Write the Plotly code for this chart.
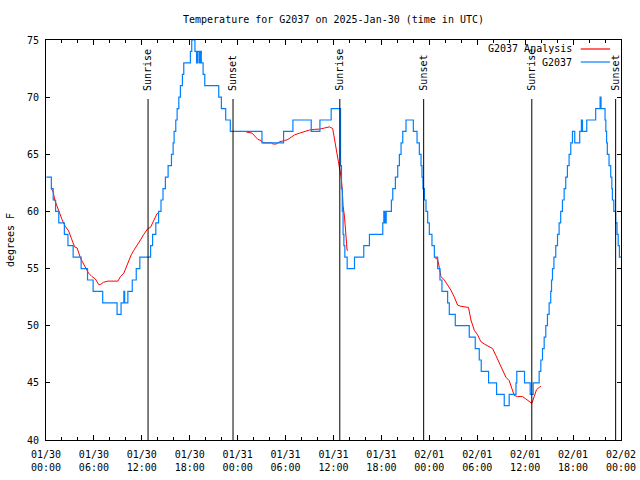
import pandas as pd
import plotly.graph_objects as go

BASE = pd.Timestamp("2025-01-30 00:00")

# Observed G2037 temperature (hours since 2025-01-30 00:00 UTC, degrees F) - step changes
obs_hours = [0.05, 0.67, 0.9, 1.2, 1.6, 2.3, 2.75, 3.4, 4.4, 5.2, 5.9, 7.1, 8.9, 9.4, 9.75, 9.85,
             10.25, 10.8, 11.3, 11.75, 13.1, 13.35, 13.75, 14.1, 14.4, 14.65, 14.95, 15.29, 15.71,
             15.92, 16.04, 16.25, 16.42, 16.63, 16.83, 17.08, 17.25, 18.08, 18.25, 18.65, 18.85,
             19.0, 19.2, 19.35, 19.45, 19.67, 19.88, 21.63, 21.96, 22.5, 23.08, 27.04, 29.75,
             30.92, 33.21, 34.3, 35.71, 36.88, 37.0, 37.1, 37.2, 37.3, 37.42, 37.71, 38.63,
             39.79, 40.5, 42.17, 42.3, 42.45, 42.6, 43.25, 43.42, 43.75, 44.04, 44.25, 44.46,
             44.67, 45.08, 46.0, 46.46, 46.75, 46.96, 47.08, 47.2, 47.38, 47.58, 47.79, 48.0,
             48.33, 48.63, 49.04, 49.33, 49.58, 50.29, 50.5, 51.25, 53.0, 53.75, 54.25, 54.5,
             55.42, 56.42, 57.38, 58.0, 58.85, 58.95, 59.92, 60.63, 61.0, 61.75, 61.96, 62.17,
             62.38, 62.58, 62.79, 63.0, 63.2, 63.3, 63.42, 63.6, 63.83, 64.05, 64.25, 64.45,
             64.67, 64.88, 65.08, 65.29, 65.5, 65.71, 65.92, 66.21, 66.83, 67.04, 67.17, 67.71,
             68.83, 69.38, 69.5, 70.0, 70.1, 70.2, 70.29, 70.5, 70.71, 70.85, 70.92, 71.1,
             71.33, 71.5, 71.65, 71.8, 72.0]
obs_temp = [63, 62, 61, 60, 59, 58, 57, 56, 55, 54, 53, 52, 51, 52, 53, 52,
            53, 54, 55, 56, 57, 58, 59, 60, 61, 62, 63, 64, 65,
            66, 67, 68, 69, 70, 71, 72, 73, 74, 75, 74, 73,
            74, 73, 74, 73, 72, 71, 70, 69, 68, 67, 66, 67,
            68, 67, 68, 69, 64, 62, 60, 58, 57, 56, 55, 56,
            57, 58, 59, 60, 59, 60, 61, 62, 63, 64, 65, 66,
            67, 68, 67, 66, 65, 64, 63, 62, 61, 60, 59, 58,
            57, 56, 55, 54, 53, 52, 51, 50, 49, 48, 47, 46,
            45, 44, 43, 44, 45, 46, 45, 44, 45, 46, 47, 48,
            49, 50, 51, 52, 53, 54, 55, 56, 57, 58, 59, 60,
            61, 62, 63, 64, 65, 66, 67, 66, 67, 68, 67, 68,
            69, 70, 69, 68, 67, 66, 65, 64, 63, 62, 61, 60,
            59, 58, 57, 56, 56]

# Analysis (three segments separated by gaps)
ana_hours = [0.67, 0.9, 1.1, 1.5, 2.0, 2.4, 2.83, 3.2, 3.58, 3.9, 4.33, 4.63, 4.92, 5.33, 5.75,
             6.17, 6.6, 6.8, 7.2, 7.75, 9.0, 9.33, 9.75, 10.08, 10.38, 10.67, 11.0, 11.42, 11.83,
             12.25, 12.75, 13.08, 13.5, 13.9, 14.1, None,
             25.08, 25.5, 25.8, 26.13, 26.54, 26.96, 27.17, 28.21, 28.42, 28.83, 29.25, 29.88,
             30.29, 30.71, 31.13, 31.75, 32.38, 33.0, 33.63, 34.25, 34.88, 35.5, 35.9, 36.04,
             36.25, 36.42, 36.6, 36.75, 36.96, 37.1, 37.2, 37.38, 37.5, 37.6, 37.7, 37.8, None,
             48.63, 49.04, 49.25, 49.46, 49.88, 50.29, 50.71, 51.13, 51.54, 51.96, 52.9, 53.21,
             53.63, 54.04, 54.46, 54.88, 55.5, 55.92, 56.33, 56.75, 57.17, 57.58, 58.0, 58.33,
             58.63, 59.04, 59.67, 60.08, 60.5, 60.83, 61.13, 61.42, 61.75, 61.96]
ana_temp = [62.0, 61.7, 61.0, 60.2, 59.3, 58.7, 58.3, 57.6, 56.9, 56.8, 55.9, 55.5, 55.1, 54.6, 54.3,
            54.1, 53.6, 53.6, 53.8, 53.9, 53.9, 54.3, 54.6, 55.2, 55.6, 56.2, 56.6, 57.0, 57.5,
            58.0, 58.5, 58.6, 59.2, 59.8, 59.9, None,
            66.95, 66.9, 66.85, 66.6, 66.3, 66.2, 66.0, 66.0, 65.9, 65.9, 66.1, 66.2,
            66.3, 66.5, 66.7, 66.85, 67.0, 67.12, 67.18, 67.2, 67.3, 67.4, 67.25, 66.6,
            65.7, 65.0, 64.4, 63.8, 63.0, 61.9, 60.5, 59.5, 58.4, 57.5, 56.6, 56.6, None,
            56.0, 55.8, 55.1, 54.3, 54.0, 53.6, 53.1, 52.5, 51.8, 51.7, 51.6, 50.5,
            49.6, 49.2, 48.6, 48.4, 48.2, 48.0, 47.4, 46.8, 46.1, 45.5, 45.2, 44.5,
            43.9, 43.8, 43.8, 43.6, 43.4, 43.2, 43.8, 44.4, 44.6, 44.7]

# Sunrise / sunset events (hours since base)
sun_hours = [12.78, 23.42, 36.79, 47.29, 60.83, 71.33]
sun_labels = ["Sunrise", "Sunset", "Sunrise", "Sunset", "Sunrise", "Sunset"]

series_names = ["G2037 Analysis", "G2037"]
series_colors = ["#ff0000", "#0080ff"]

FONT = "DejaVu Sans Mono"


def to_time(hours):
    return [None if h is None else BASE + pd.Timedelta(hours=h) for h in hours]


fig = go.Figure()
fig.add_trace(go.Scatter(x=to_time(ana_hours), y=ana_temp, mode="lines", name=series_names[0],
                         line=dict(color=series_colors[0], width=1), connectgaps=False,
                         showlegend=False))
fig.add_trace(go.Scatter(x=to_time(obs_hours), y=obs_temp, mode="lines", name=series_names[1],
                         line=dict(color=series_colors[1], width=1.2, shape="hv"),
                         showlegend=False))

line_top = (440 - 99) / 400
for h, lab in zip(sun_hours, sun_labels):
    t = BASE + pd.Timedelta(hours=h)
    fig.add_shape(type="line", xref="x", yref="paper", x0=t, x1=t, y0=0, y1=line_top,
                  line=dict(color="black", width=1))
    fig.add_annotation(x=t, xref="x", yref="paper", y=line_top + 0.015, text=lab,
                       textangle=-90, showarrow=False, xanchor="center", yanchor="bottom",
                       font=dict(family=FONT, size=10, color="black"))

# legend (text left of line sample, gnuplot style)
for i, (name, col) in enumerate(zip(series_names, series_colors)):
    yp = (440 - (49 + 13 * i)) / 400
    fig.add_annotation(x=0.918, y=yp, xref="paper", yref="paper", text=name, showarrow=False,
                       xanchor="right", yanchor="middle",
                       font=dict(family=FONT, size=10, color="black"))
    fig.add_shape(type="line", xref="paper", yref="paper", x0=0.930, x1=0.981, y0=yp, y1=yp,
                  line=dict(color=col, width=1.2))

fig.update_xaxes(type="date", range=[BASE, BASE + pd.Timedelta(hours=72)],
                 tick0=BASE, dtick=6 * 3600 * 1000, tickformat="%m/%d<br>%H:%M",
                 ticks="inside", ticklen=5, tickcolor="black", showline=True, linecolor="black",
                 linewidth=1, mirror="ticks", showgrid=False, zeroline=False, automargin=False,
                 ticklabelstandoff=5,
                 minor=dict(dtick=2 * 3600 * 1000, ticks="inside", ticklen=3, tickcolor="black",
                            showgrid=False),
                 tickfont=dict(family=FONT, size=10, color="black"))
fig.update_yaxes(range=[40, 75], dtick=5, ticks="inside", ticklen=4, tickcolor="black",
                 showline=True, linecolor="black", linewidth=1, mirror="ticks",
                 showgrid=False, zeroline=False, automargin=False, ticklabelstandoff=4,
                 tickfont=dict(family=FONT, size=10, color="black"),
                 title=dict(text="degrees F", font=dict(family=FONT, size=10, color="black"),
                            standoff=10))

fig.update_layout(
    width=640, height=480,
    margin=dict(l=46, r=19, t=40, b=40, autoexpand=False),
    paper_bgcolor="white", plot_bgcolor="white",
    title=dict(text="Temperature for G2037 on 2025-Jan-30 (time in UTC)", x=0.5, xref="paper",
               xanchor="center", y=1 - 19 / 480, yanchor="middle",
               font=dict(family=FONT, size=10, color="black")),
    showlegend=False,
)

fig.write_html("out.html", config={"displayModeBar": False},
               post_script="document.body.style.margin='0';document.body.style.overflow='hidden';")
